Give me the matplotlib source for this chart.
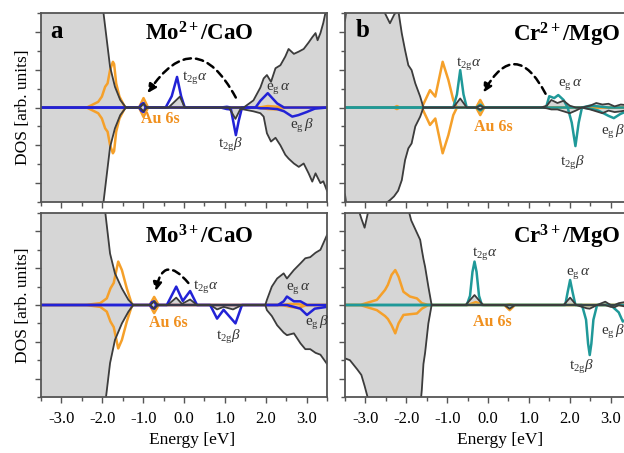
import numpy as np
import matplotlib
matplotlib.use("Agg")
import matplotlib.pyplot as plt
from matplotlib.patches import FancyArrowPatch
from matplotlib.ticker import MultipleLocator, FormatStrFormatter

plt.rcParams["font.family"] = "Liberation Serif"
plt.rcParams["mathtext.fontset"] = "custom"
plt.rcParams["mathtext.rm"] = "Liberation Serif"
plt.rcParams["mathtext.it"] = "Liberation Serif:italic"
plt.rcParams["mathtext.bf"] = "Liberation Serif:bold"
plt.rcParams["axes.unicode_minus"] = False

################## DATEN ##################
# a) Mo2+/CaO  -- Gesamt-DOS (grau), Au 6s (orange), Mo d (blau)
a1_e = [-3.5, -2.2, -1.97, -1.81, -1.69, -1.56, -1.42, -1.08, -0.99, -0.9,
        -0.38, -0.1, 0.02, 1.1, 1.26, 1.38, 1.46, 1.70, 1.87, 1.95,
        2.03, 2.13, 2.24, 2.36, 2.48, 2.56, 2.69, 2.81, 2.93, 3.05,
        3.14, 3.22, 3.27, 3.34, 3.41, 3.5]
a1_up = [6.0, 3.2, 2.5, 1.08, 0.55, 0.2, 0.0, 0.0, 0.1, 0.0,
         0.0, 0.29, 0.0, 0.0, 0.0, 0.0, 0.0, 0.19, 0.53, 0.77,
         0.86, 0.68, 1.04, 1.12, 1.35, 1.55, 1.42, 1.48, 1.55, 1.72,
         1.86, 1.97, 1.78, 1.97, 2.24, 2.7]
a1_dn = [-6.0, -3.2, -2.5, -1.05, -0.55, -0.2, 0.0, 0.0, -0.1, 0.0,
         0.0, 0.0, 0.0, 0.0, -0.3, -0.04, -0.05, -0.1, -0.15, -0.24,
         -0.68, -0.9, -0.8, -1.0, -1.25, -1.35, -1.48, -1.57, -1.48, -1.74,
         -1.96, -1.74, -1.85, -2.0, -1.95, -2.2]

a1_au_e = [-3.5, -2.38, -2.10, -2.01, -1.93, -1.87, -1.81, -1.74, -1.71, -1.66,
           -1.58, -1.44, -1.1, -0.99, -0.88, 1.85, 2.05, 2.3, 2.5, 3.5]
a1_au_up = [0, 0, 0.15, 0.29, 0.55, 0.64, 0.99, 1.21, 1.15, 0.64,
            0.29, 0, 0, 0.25, 0, 0, 0.04, 0.02, 0, 0]
a1_au_dn = [0, 0, -0.15, -0.29, -0.55, -0.64, -0.99, -1.21, -1.15, -0.64,
            -0.29, 0, 0, -0.25, 0, 0, -0.04, -0.05, 0, 0]

a1_d_e = [-3.5, -1.1, -1.04, -0.99, -0.94, -0.45, -0.3, -0.17, -0.07, 0.02,
          0.9, 1.05, 1.15, 1.22, 1.27, 1.34, 1.42, 1.75, 1.87, 2.05,
          2.28, 2.45, 2.65, 2.8, 3.0, 3.2, 3.5]
a1_d_up = [0, 0, 0.09, 0.12, 0, 0, 0.3, 0.81, 0.3, 0,
           0, 0.02, 0, 0, 0, 0, 0, 0, 0.18, 0.38,
           0.11, 0, 0, 0, 0, 0, 0]
a1_d_dn = [0, 0, -0.09, -0.12, 0, 0, 0, 0, 0, 0,
           0, -0.04, -0.05, -0.45, -0.73, -0.35, 0, 0, -0.02, -0.02,
           -0.04, -0.1, -0.24, -0.2, -0.12, -0.03, 0]

# a) Mo3+/CaO
a2_e = [-3.5, -2.2, -1.93, -1.81, -1.69, -1.52, -1.36, -1.24, -0.82, -0.73,
        -0.64, -0.4, -0.19, -0.05, 0.15, 0.32, 0.65, 0.81, 0.97, 1.2,
        1.42, 1.99, 2.03, 2.15, 2.28, 2.44, 2.52, 2.69, 2.85, 2.97,
        3.09, 3.22, 3.34, 3.5]
a2_up = [6.0, 3.2, 2.55, 1.40, 0.86, 0.45, 0.14, 0.0, 0.0, 0.1,
         0.0, 0.0, 0.2, 0.03, 0.15, 0.0, 0.0, 0.0, 0.0, 0.0,
         0.0, 0.0, 0.14, 0.5, 0.72, 0.86, 0.72, 0.95, 1.13, 1.27,
         1.3, 1.42, 1.5, 1.9]
a2_dn = [-6.0, -3.2, -2.7, -1.58, -0.95, -0.5, -0.18, 0.0, 0.0, -0.1,
         0.0, 0.0, 0.0, 0.0, 0.0, 0.0, 0.0, -0.12, -0.05, -0.12,
         0.0, 0.0, -0.14, -0.3, -0.55, -0.75, -0.82, -0.77, -1.04, -1.2,
         -1.2, -1.3, -1.35, -1.6]

a2_au_e = [-3.5, -2.42, -2.05, -1.89, -1.80, -1.72, -1.61, -1.52, -1.40, -1.27,
           -0.84, -0.73, -0.62, 2.4, 2.6, 2.8, 3.0, 3.5]
a2_au_up = [0, 0, 0.05, 0.18, 0.45, 0.6, 1.18, 0.95, 0.45, 0.0,
            0, 0.22, 0, 0, 0.03, 0.02, 0, 0]
a2_au_dn = [0, 0, -0.05, -0.18, -0.45, -0.6, -1.18, -0.95, -0.45, 0.0,
            0, -0.22, 0, 0, -0.05, -0.08, 0, 0]

a2_d_e = [-3.5, -0.84, -0.78, -0.73, -0.68, -0.42, -0.19, -0.03, 0.15, 0.32,
          0.64, 0.81, 0.97, 1.26, 1.42, 2.3, 2.44, 2.52, 2.69, 2.85,
          3.01, 3.2, 3.5]
a2_d_up = [0, 0, 0.08, 0.1, 0, 0, 0.5, 0.11, 0.38, 0,
           0, 0, 0, 0, 0, 0, 0.1, 0.23, 0.1, 0.1,
           0, 0, 0]
a2_d_dn = [0, 0, -0.08, -0.1, 0, 0, 0, 0, 0, 0,
           0, -0.37, -0.13, -0.5, 0, 0, 0, 0, -0.05, -0.1,
           -0.27, -0.1, -0.05]

# b) Cr2+/MgO -- Cr d (tuerkis)
b1_e = [-3.5, -3.45, -2.6, -2.52, -2.40, -2.30, -2.2, -2.11, -2.03, -1.95,
        -1.87, -1.78, -1.66, -1.58, -1.2, -0.85, -0.68, -0.52, -0.3, -0.19,
        -0.1, 1.3, 1.44, 1.55, 1.7, 1.85, 2.0, 2.15, 2.3, 2.5,
        2.65, 2.8, 2.95, 3.1, 3.25, 3.5]
b1_up = [2.3, 2.7, 2.7, 2.49, 2.23, 2.45, 2.6, 1.96, 1.52, 1.12,
         0.99, 0.64, 0.29, 0.0, 0.0, 0.0, 0.24, 0.0, 0.0, 0.05,
         0.0, 0.0, 0.05, 0.2, 0.12, 0.18, 0.05, 0.0, 0.0, 0.05,
         0.12, 0.08, 0.1, 0.03, 0.08, 0.05]
b1_dn = [-2.3, -2.7, -2.7, -2.55, -2.45, -2.35, -2.2, -1.92, -1.39, -1.08,
         -0.95, -0.5, -0.24, 0.0, 0.0, 0.0, 0.0, 0.0, 0.0, -0.05,
         0.0, 0.0, -0.02, -0.05, -0.05, -0.1, -0.15, -0.08, 0.0, -0.05,
         -0.1, -0.15, -0.08, -0.12, -0.1, -0.05]

b1_au_e = [-3.5, -2.3, -2.23, -2.16, -1.62, -1.42, -1.29, -1.11, -0.97, -0.85,
           -0.76, -0.29, -0.19, -0.09, 3.5]
b1_au_up = [0, 0, 0.04, 0, 0, 0.46, 0.29, 1.21, 0.73, 0.2,
            0, 0, 0.2, 0, 0]
b1_au_dn = [0, 0, -0.04, 0, 0, -0.46, -0.29, -1.21, -0.73, -0.2,
            0, 0, -0.2, 0, 0]

b1_d_e = [-3.5, -0.85, -0.76, -0.68, -0.6, -0.52, -0.28, -0.19, -0.1, 1.42,
          1.5, 1.62, 1.72, 1.85, 1.95, 2.05, 2.14, 2.22, 2.30, 2.5,
          2.7, 2.95, 3.08, 3.24, 3.5]
b1_d_up = [0, 0, 0.35, 0.99, 0.35, 0, 0, 0.08, 0, 0,
           0.3, 0.25, 0.33, 0.2, 0, 0, 0, 0, 0, 0.05,
           0.03, 0, 0, 0, 0]
b1_d_dn = [0, 0, 0, 0, 0, 0, 0, -0.08, 0, 0,
           0, 0, 0, 0, 0, -0.4, -1.02, -0.4, 0, -0.03,
           -0.08, -0.22, -0.28, -0.17, -0.05]

# b) Cr3+/MgO
b2_e = [-3.5, -3.38, -3.2, -3.1, -3.02, -2.9, -1.95, -1.88, -1.66, -1.62,
        -1.58, -1.54, -1.46, -1.38, -0.55, -0.33, -0.12, 0.4, 0.53, 0.66,
        1.85, 2.01, 2.16, 2.3, 2.42, 2.49, 2.67, 2.87, 3.0, 3.1,
        3.2, 3.35, 3.5]
b2_up = [2.7, 2.7, 2.7, 2.35, 2.1, 2.7, 2.6, 2.3, 1.77, 1.5,
         1.25, 1.04, 0.5, 0.0, 0.0, 0.27, 0.0, 0.0, 0.0, 0.0,
         0.0, 0.2, 0.0, 0.0, 0.0, 0.0, 0.0, 0.09, 0.0, 0.0,
         0.05, 0.08, 0.05]
b2_dn = [-1.45, -1.5, -1.75, -1.9, -2.2, -2.7, -3.0, -3.0, -2.8, -2.3,
         -1.6, -1.3, -0.5, 0.0, 0.0, 0.0, 0.0, 0.0, -0.1, 0.0,
         0.0, 0.0, 0.0, -0.05, -0.09, -0.1, 0.0, 0.0, -0.05, -0.06,
         0.0, -0.04, -0.03]

b2_au_e = [-3.5, -3.13, -2.72, -2.52, -2.45, -2.36, -2.27, -2.19, -2.07, -1.91,
           -1.74, -1.62, -1.46, -0.5, -0.3, -0.1, 0.4, 0.53, 0.66, 2.0, 3.5]
b2_au_up = [0, 0, 0.14, 0.41, 0.55, 0.82, 0.95, 0.77, 0.36, 0.23,
            0.18, 0.05, 0, 0, 0.08, 0, 0, 0.02, 0, 0, 0]
b2_au_dn = [0, 0, -0.14, -0.3, -0.38, -0.55, -0.77, -0.5, -0.27, -0.25,
            -0.23, -0.1, 0, 0, 0, 0, 0, -0.14, 0, 0, 0]

b2_d_e = [-3.5, -0.52, -0.44, -0.38, -0.33, -0.28, -0.22, -0.15, 1.89, 1.95,
          2.01, 2.07, 2.14, 2.30, 2.40, 2.45, 2.49, 2.53, 2.58, 2.67,
          3.0, 3.2, 3.3, 3.5]
b2_d_up = [0, 0, 0.25, 0.9, 1.18, 0.9, 0.25, 0, 0, 0.35,
           0.68, 0.35, 0, 0, 0, 0, 0, 0, 0, 0,
           0, 0, 0, 0]
b2_d_dn = [0, 0, 0, 0, 0, 0, 0, 0, 0, 0,
           0, 0, 0, 0, -0.4, -1.05, -1.36, -1.05, -0.4, 0,
           0, -0.2, -0.45, -0.3]

xticks = [-3.0, -2.0, -1.0, 0.0, 1.0, 2.0, 3.0]

################## FARBEN ##################
c_fill = "#d6d6d6"
c_tot = "#3c3c3c"
c_au = "#f5a02a"
c_mo = "#2222d6"
c_cr = "#1f9999"
c_txt = "#333333"
c_autxt = "#f0901e"

################## DARSTELLUNG ##################
fig = plt.figure(figsize=(6.24, 4.53), dpi=100)
ax_a1 = fig.add_axes([0.0657, 0.554, 0.4583, 0.4172])
ax_a2 = fig.add_axes([0.0657, 0.1236, 0.4583, 0.4062])
ax_b1 = fig.add_axes([0.5529, 0.554, 0.4583, 0.4172])
ax_b2 = fig.add_axes([0.5529, 0.1236, 0.4583, 0.4062])


def draw(ax, e, up, dn, ae, aup, adn, de, dup, ddn, dcol):
    ax.fill_between(e, dn, up, color=c_fill, lw=0)
    ax.plot(ae, aup, color=c_au, lw=1.8)
    ax.plot(ae, adn, color=c_au, lw=1.8)
    ax.plot(de, dup, color=dcol, lw=1.8)
    ax.plot(de, ddn, color=dcol, lw=1.8)
    ax.plot(e, up, color=c_tot, lw=1.3)
    ax.plot(e, dn, color=c_tot, lw=1.3)
    ax.set_xlim(-3.5, 3.5)
    ax.set_ylim(-2.5, 2.5)
    ax.set_xticks(xticks)
    ax.xaxis.set_minor_locator(MultipleLocator(0.5))
    ax.yaxis.set_major_locator(MultipleLocator(1.0))
    ax.yaxis.set_minor_locator(MultipleLocator(0.5))
    ax.set_yticklabels([])
    ax.tick_params(which="major", direction="out", length=4, width=1, color="#555555",
                   labelsize=12, pad=6)
    ax.tick_params(which="minor", direction="out", length=3, width=1, color="#555555")
    ax.xaxis.set_major_formatter(FormatStrFormatter("%.1f"))
    for s in ax.spines.values():
        s.set_color("#555555")
        s.set_linewidth(1.3)


draw(ax_a1, a1_e, a1_up, a1_dn, a1_au_e, a1_au_up, a1_au_dn, a1_d_e, a1_d_up, a1_d_dn, c_mo)
draw(ax_a2, a2_e, a2_up, a2_dn, a2_au_e, a2_au_up, a2_au_dn, a2_d_e, a2_d_up, a2_d_dn, c_mo)
draw(ax_b1, b1_e, b1_up, b1_dn, b1_au_e, b1_au_up, b1_au_dn, b1_d_e, b1_d_up, b1_d_dn, c_cr)
draw(ax_b2, b2_e, b2_up, b2_dn, b2_au_e, b2_au_up, b2_au_dn, b2_d_e, b2_d_up, b2_d_dn, c_cr)

for ax in (ax_a1, ax_b1):
    ax.set_xticklabels([])

for ax in (ax_a1, ax_a2):
    ax.set_ylabel("DOS [arb. units]", fontsize=12.5)
    ax.yaxis.set_label_coords(-0.035, 0.5)

ax_a2.set_xlabel("Energy [eV]", fontsize=12.5)
ax_a2.xaxis.set_label_coords(0.527, -0.19)
ax_b2.set_xlabel("Energy [eV]", fontsize=12.5)
ax_b2.xaxis.set_label_coords(0.543, -0.19)

# Panel-Buchstaben und Titel
ax_a1.text(0.055, 0.905, "a", transform=ax_a1.transAxes, fontsize=18, fontweight="bold", ha="center", va="center")
ax_b1.text(0.06, 0.91, "b", transform=ax_b1.transAxes, fontsize=18, fontweight="bold", ha="center", va="center")
tit = dict(fontsize=16.5, fontweight="bold", ha="center", va="center")
ax_a1.text(0.552, 0.89, r"Mo$^{\mathbf{2+}}$/CaO", transform=ax_a1.transAxes, **tit)
ax_a2.text(0.552, 0.87, r"Mo$^{\mathbf{3+}}$/CaO", transform=ax_a2.transAxes, **tit)
ax_b1.text(0.776, 0.885, r"Cr$^{\mathbf{2+}}$/MgO", transform=ax_b1.transAxes, **tit)
ax_b2.text(0.776, 0.87, r"Cr$^{\mathbf{3+}}$/MgO", transform=ax_b2.transAxes, **tit)

t2a = r"t$_{\mathrm{2g}}\alpha$"
t2b = r"t$_{\mathrm{2g}}\beta$"
ega = r"e$_{\mathrm{g}}\,\alpha$"
egb = r"e$_{\mathrm{g}}\,\beta$"
lab = dict(fontsize=11, color=c_txt, ha="center", va="center")
au = dict(fontsize=11.5, color=c_autxt, fontweight="bold", ha="center", va="center")

ax_a1.text(0.27, 0.80, t2a, **lab)
ax_a1.text(1.13, -0.99, t2b, **lab)
ax_a1.text(2.32, 0.51, ega, **lab)
ax_a1.text(2.89, -0.49, egb, **lab)
ax_a1.text(-0.58, -0.30, "Au 6s", **au)

ax_a2.text(0.54, 0.50, t2a, **lab)
ax_a2.text(1.09, -0.86, t2b, **lab)
ax_a2.text(2.81, 0.45, ega, **lab)
ax_a2.text(3.25, -0.50, egb, clip_on=False, **lab)
ax_a2.text(-0.38, -0.50, "Au 6s", **au)

ax_b1.text(-0.48, 1.17, t2a, **lab)
ax_b1.text(2.06, -1.48, t2b, **lab)
ax_b1.text(2.01, 0.60, ega, **lab)
ax_b1.text(3.05, -0.64, egb, **lab)
ax_b1.text(0.13, -0.51, "Au 6s", **au)

ax_b2.text(-0.07, 1.40, t2a, **lab)
ax_b2.text(2.30, -1.68, t2b, **lab)
ax_b2.text(2.22, 0.86, ega, **lab)
ax_b2.text(3.07, -0.72, egb, **lab)
ax_b2.text(0.10, -0.45, "Au 6s", **au)

# gestrichelte Pfeile (Ladungstransfer)
arrows = [
    (ax_a1, (1.30, 0.20), (-0.93, 0.32), 0.85),
    (ax_a2, (0.15, 0.54), (-0.71, 0.30), 1.1),
    (ax_b1, (1.44, 0.30), (-0.15, 0.33), 0.95),
]
for ax, p0, p1, rad in arrows:
    arr = FancyArrowPatch(p0, p1, connectionstyle=f"arc3,rad={rad}",
                          arrowstyle="-|>,head_length=5,head_width=2.5",
                          color="black", lw=1.8, linestyle=(0, (3, 2)))
    ax.add_patch(arr)

fig.savefig("out.png", dpi=100)
